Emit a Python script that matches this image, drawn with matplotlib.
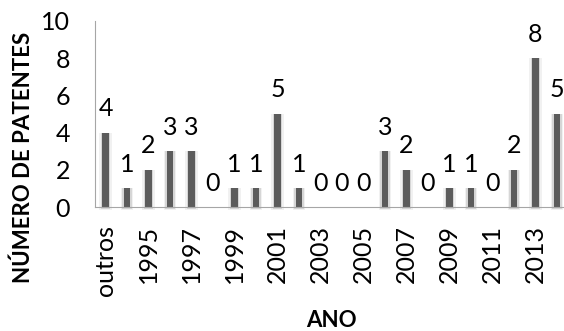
import matplotlib.pyplot as plt
import numpy as np

plt.rcParams['font.family'] = ['Lato', 'DejaVu Sans']

# patent counts per year ("outros" = earlier years)
anos = ['outros', '1994', '1995', '1996', '1997', '1998', '1999', '2000',
        '2001', '2002', '2003', '2004', '2005', '2006', '2007', '2008',
        '2009', '2010', '2011', '2012', '2013', '2014']
patentes = [4, 1, 2, 3, 3, 0, 1, 1, 5, 1, 0, 0, 0, 3, 2, 0, 1, 1, 0, 2, 8, 5]

x = np.arange(len(anos))
v = np.array(patentes, dtype=float)

fig = plt.figure(figsize=(5.64, 3.31), dpi=100)
ax = fig.add_axes([0.1684, 0.3746, 0.8316, 0.562])

# soft shadow around each bar (reaching a little below the axis), then the dark core
sombra = 0.15 * (v > 0)
ax.bar(x, v + sombra, bottom=-sombra, width=0.58, color='#f1f1f1', zorder=1, clip_on=False)
ax.bar(x, v + sombra * 0.6, bottom=-sombra * 0.6, width=0.44, color='#d6d6d6', zorder=2, clip_on=False)
ax.bar(x, v, width=0.30, color='#5c5c5c', zorder=3)

for xi, n in zip(x, patentes):
    ax.annotate(str(n), xy=(xi, n), xytext=(0, 9), textcoords='offset points',
                ha='center', va='bottom', fontsize=18, color='black')

ax.set_xlim(-0.49, 21.33)
ax.set_ylim(0, 10)
ax.set_yticks(range(0, 11, 2))
ax.set_xticks(x[::2])
ax.set_xticklabels(anos[::2], rotation=90)
ax.tick_params(axis='both', length=0, labelsize=18)
ax.tick_params(axis='y', pad=18)
ax.tick_params(axis='x', pad=13)

for s in ['top', 'right']:
    ax.spines[s].set_visible(False)
for s in ['left', 'bottom']:
    ax.spines[s].set_color('#a6a6a6')
    ax.spines[s].set_zorder(4)

fig.text(0.041, 0.526, 'NÚMERO DE PATENTES', rotation=90, ha='center', va='center',
         fontsize=16, fontweight='bold')
fig.text(0.587, 0.032, 'ANO', ha='center', va='center', fontsize=16, fontweight='bold')

fig.savefig('out.png', dpi=100)
